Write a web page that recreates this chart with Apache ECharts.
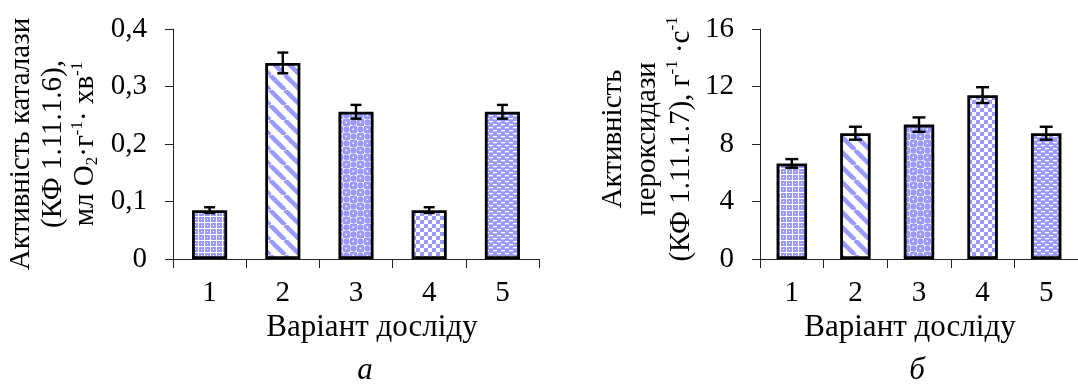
<!DOCTYPE html>
<html>
<head>
<meta charset="utf-8">
<script src="https://cdn.jsdelivr.net/npm/echarts@6/dist/echarts.min.js"></script>
<style>
html,body{margin:0;padding:0;background:#fff;}
#c{width:1078px;height:388px;}
</style>
</head>
<body>
<div id="c"></div>
<script>
// ---- data ----
const categories = ['1', '2', '3', '4', '5'];
const catalase = [0.085, 0.341, 0.256, 0.085, 0.256];
const catalaseErr = [0.005, 0.018, 0.012, 0.005, 0.012];
const peroxidase = [6.65, 8.75, 9.35, 11.4, 8.75];
const peroxidaseErr = [0.3, 0.45, 0.5, 0.55, 0.45];
const leftTicks = ['0', '0,1', '0,2', '0,3', '0,4'];
const rightTicks = ['0', '4', '8', '12', '16'];
const xTitle = 'Варіант досліду';

// ---- patterns ----
const BLUE = '#9a9aff';
function tile(w, h, draw) {
  const c = document.createElement('canvas');
  c.width = w; c.height = h;
  draw(c.getContext('2d'), w, h);
  return c;
}
const pLattice = tile(6, 6, (g, w, h) => {
  g.fillStyle = BLUE; g.fillRect(0, 0, w, h);
  g.fillStyle = '#fff';
  g.fillRect(0, 0, 6, 1); g.fillRect(0, 0, 1, 6);
  g.fillRect(3, 3, 1, 1);
});
const pStripes = tile(15, 15, (g, w, h) => {
  g.fillStyle = '#fff'; g.fillRect(0, 0, w, h);
  g.strokeStyle = BLUE; g.lineWidth = 4.5;
  [-15, 0, 15].forEach(o => { g.beginPath(); g.moveTo(o, 0); g.lineTo(o + 15, 15); g.stroke(); });
});
const pSpheres = tile(14, 14, (g, w, h) => {
  g.fillStyle = '#fff'; g.fillRect(0, 0, w, h);
  g.fillStyle = BLUE;
  g.fillRect(0, 0, 7, 7); g.fillRect(7, 7, 7, 7);
  [[10.5, 3.5], [3.5, 10.5]].forEach(([x, y]) => { g.beginPath(); g.arc(x, y, 3.2, 0, Math.PI * 2); g.fill(); });
  g.fillStyle = '#fff';
  [[2.5, 2.5], [9.5, 9.5]].forEach(([x, y]) => { g.fillRect(x, y, 1.6, 1.6); });
});
const pChecker = tile(8, 8, (g, w, h) => {
  g.fillStyle = '#fff'; g.fillRect(0, 0, w, h);
  g.fillStyle = BLUE; g.fillRect(0, 0, 4, 4); g.fillRect(4, 4, 4, 4);
});
const pDashes = tile(8, 6, (g, w, h) => {
  g.fillStyle = BLUE; g.fillRect(0, 0, w, h);
  g.fillStyle = '#fff';
  g.fillRect(1, 1, 4, 1.3); g.fillRect(5, 4, 4, 1.3); g.fillRect(-3, 4, 4, 1.3);
});
const patterns = [pLattice, pStripes, pSpheres, pChecker, pDashes];

const FONT = 'Liberation Serif';
const AX = '#222';

function barData(vals) {
  return vals.map((v, i) => ({
    value: v,
    itemStyle: { color: { image: patterns[i], repeat: 'repeat' }, borderColor: '#000', borderWidth: 2.8 }
  }));
}
function errRender(hw) {
  return function (params, api) {
    const x = api.value(0), y = api.value(1), e = api.value(2);
    const t = api.coord([x, y + e]), b = api.coord([x, y - e]);
    const st = { stroke: '#000', lineWidth: 2.4 };
    return {
      type: 'group', children: [
        { type: 'line', shape: { x1: t[0], y1: t[1], x2: b[0], y2: b[1] }, style: st },
        { type: 'line', shape: { x1: t[0] - hw, y1: t[1], x2: t[0] + hw, y2: t[1] }, style: st },
        { type: 'line', shape: { x1: b[0] - hw, y1: b[1], x2: b[0] + hw, y2: b[1] }, style: st }
      ]
    };
  };
}
function xAxis(gi) {
  return {
    type: 'category', gridIndex: gi, data: categories, boundaryGap: true,
    axisLine: { lineStyle: { color: AX, width: 1 } },
    axisTick: { show: true, length: 9, alignWithLabel: false, lineStyle: { color: AX } },
    axisLabel: { color: '#000', fontFamily: FONT, fontSize: 29, margin: 20 },
    splitLine: { show: false }
  };
}
function yAxis(gi, max, interval, labels) {
  return {
    type: 'value', gridIndex: gi, min: 0, max: max, interval: interval,
    axisLine: { show: true, lineStyle: { color: AX, width: 1 } },
    axisTick: { show: true, length: 8, lineStyle: { color: AX } },
    axisLabel: { color: '#000', fontFamily: FONT, fontSize: 29, margin: 26, formatter: (v, i) => labels[i] },
    splitLine: { show: false }
  };
}
const rich = {
  sup: { fontSize: 17, fontFamily: FONT, verticalAlign: 'top', lineHeight: 17, fill: '#000' },
  sub: { fontSize: 17, fontFamily: FONT, verticalAlign: 'bottom', lineHeight: 17, fill: '#000' }
};
function txt(x, y, text, opts) {
  return Object.assign({
    type: 'text', x: x, y: y, silent: true,
    style: Object.assign({
      text: text, fill: '#000', font: '29px "' + FONT + '"',
      align: 'center', verticalAlign: 'middle'
    }, opts && opts.style)
  }, opts && opts.el);
}

const chart = echarts.init(document.getElementById('c'));
chart.setOption({
  animation: false,
  backgroundColor: '#fff',
  grid: [
    { left: 173, top: 29, width: 366, height: 230 },
    { left: 760, top: 29, width: 320, height: 230 }
  ],
  xAxis: [xAxis(0), xAxis(1)],
  yAxis: [yAxis(0, 0.4, 0.1, leftTicks), yAxis(1, 16, 4, rightTicks)],
  series: [
    { type: 'bar', xAxisIndex: 0, yAxisIndex: 0, barWidth: '48%', data: barData(catalase) },
    { type: 'custom', xAxisIndex: 0, yAxisIndex: 0, z: 5, renderItem: errRender(5.5),
      encode: { x: 0, y: 1 }, data: categories.map((c, i) => [i, catalase[i], catalaseErr[i]]) },
    { type: 'bar', xAxisIndex: 1, yAxisIndex: 1, barWidth: '48%', data: barData(peroxidase) },
    { type: 'custom', xAxisIndex: 1, yAxisIndex: 1, z: 5, renderItem: errRender(6.5),
      encode: { x: 0, y: 1 }, data: categories.map((c, i) => [i, peroxidase[i], peroxidaseErr[i]]) }
  ],
  graphic: [
    txt(53, 144, 'Активність каталази\n(КФ 1.11.1.6),\nмл O{sub|2}·г{sup|-1}· хв{sup|-1}',
      { el: { rotation: Math.PI / 2 }, style: { lineHeight: 32, rich: rich } }),
    txt(647, 139, 'Активність\nпероксидази\n(КФ 1.11.1.7), г{sup|-1} ·с{sup|-1}',
      { el: { rotation: Math.PI / 2 }, style: { lineHeight: 34, rich: rich } }),
    txt(372, 328, xTitle, { style: { font: '31px "' + FONT + '"' } }),
    txt(910, 328, xTitle, { style: { font: '31px "' + FONT + '"' } }),
    txt(365, 371, 'а', { style: { font: 'italic 31px "' + FONT + '"' } }),
    txt(917, 371, 'б', { style: { font: 'italic 31px "' + FONT + '"' } })
  ]
});
</script>
</body>
</html>
